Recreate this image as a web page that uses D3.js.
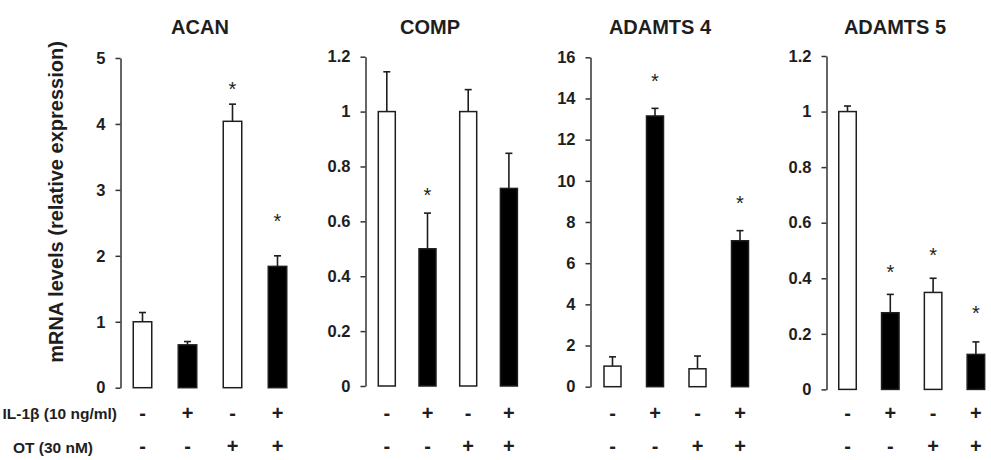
<!DOCTYPE html>
<html>
<head>
<meta charset="utf-8">
<script src="https://cdn.jsdelivr.net/npm/d3@7"></script>
<style>
  html, body { margin: 0; padding: 0; background: #fff; }
  svg { display: block; font-family: Arial, "Liberation Sans", sans-serif; }
</style>
</head>
<body>
<svg id="chart" width="991" height="460"></svg>
<script>
// groups (treatments), shared by all panels
const categories = ['ctrl', 'il1b', 'ot', 'il1b_ot'];
const il1bSigns = ['-', '+', '-', '+'];
const otSigns = ['-', '-', '+', '+'];
const barFills = ['white', 'black', 'white', 'black'];

const genes = ['ACAN', 'COMP', 'ADAMTS 4', 'ADAMTS 5'];
const yMax = [5, 1.2, 16, 1.2];
const yTicks = [
  [0, 1, 2, 3, 4, 5],
  [0, 0.2, 0.4, 0.6, 0.8, 1, 1.2],
  [0, 2, 4, 6, 8, 10, 12, 14, 16],
  [0, 0.2, 0.4, 0.6, 0.8, 1, 1.2]
];

const acanMean = [1.0, 0.65, 4.04, 1.84];
const acanErr = [0.14, 0.05, 0.26, 0.16];
const acanStar = [null, null, 4.59, 2.59];

const compMean = [1.0, 0.5, 1.0, 0.72];
const compErr = [0.145, 0.13, 0.08, 0.128];
const compStar = [null, 0.71, null, null];

const adamts4Mean = [1.0, 13.15, 0.87, 7.09];
const adamts4Err = [0.45, 0.37, 0.62, 0.49];
const adamts4Star = [null, 15.06, null, 9.12];

const adamts5Mean = [1.0, 0.276, 0.349, 0.126];
const adamts5Err = [0.02, 0.066, 0.051, 0.045];
const adamts5Star = [null, 0.437, 0.499, 0.288];

const means = [acanMean, compMean, adamts4Mean, adamts5Mean];
const errs = [acanErr, compErr, adamts4Err, adamts5Err];
const stars = [acanStar, compStar, adamts4Star, adamts5Star];

// panel placement
const layout = [
  { axisX: 120.5, first: 142.5, step: 45, barW: 20, y0: 387.7, yTop: 58, titleX: 200 },
  { axisX: 365.5, first: 386.8, step: 40.7, barW: 18.5, y0: 386, yTop: 56.7, titleX: 430 },
  { axisX: 590.5, first: 612.5, step: 42.5, barW: 18.5, y0: 386.7, yTop: 57.3, titleX: 660 },
  { axisX: 826.5, first: 847.5, step: 42.8, barW: 19, y0: 389.4, yTop: 56, titleX: 895 }
];

const ink = '#1e1e1e';
const svg = d3.select('#chart');

genes.forEach((gene, p) => {
  const L = layout[p];
  const g = svg.append('g');
  const start = L.first - L.step / 2;
  const x = d3.scaleBand()
    .domain(categories)
    .range([start, start + L.step * categories.length])
    .paddingInner(1 - L.barW / L.step)
    .paddingOuter((1 - L.barW / L.step) / 2);
  const y = d3.scaleLinear().domain([0, yMax[p]]).range([L.y0, L.yTop]);

  const axis = g.append('g')
    .attr('transform', `translate(${L.axisX},0)`)
    .call(d3.axisLeft(y).tickValues(yTicks[p]).tickFormat(d3.format('~g'))
      .tickSize(5).tickSizeOuter(0).tickPadding(10));
  axis.select('.domain').attr('stroke', '#333').attr('stroke-width', 1.5);
  axis.selectAll('.tick line').attr('stroke', '#333').attr('stroke-width', 1.5);
  axis.selectAll('.tick text')
    .attr('fill', ink).attr('font-size', 16.5).attr('font-weight', 'bold');

  const data = categories.map((c, i) => ({
    c, v: means[p][i], e: errs[p][i], s: stars[p][i], fill: barFills[i]
  }));

  // error bars (upper only)
  const eb = g.selectAll('.err').data(data).enter().append('g');
  eb.append('line')
    .attr('x1', d => x(d.c) + x.bandwidth() / 2)
    .attr('x2', d => x(d.c) + x.bandwidth() / 2)
    .attr('y1', d => y(d.v))
    .attr('y2', d => y(d.v + d.e))
    .attr('stroke', ink).attr('stroke-width', 1.6);
  eb.append('line')
    .attr('x1', d => x(d.c) + x.bandwidth() / 2 - 3.5)
    .attr('x2', d => x(d.c) + x.bandwidth() / 2 + 3.5)
    .attr('y1', d => y(d.v + d.e))
    .attr('y2', d => y(d.v + d.e))
    .attr('stroke', ink).attr('stroke-width', 1.6);

  g.selectAll('.bar').data(data).enter().append('rect')
    .attr('x', d => x(d.c) + 0.75)
    .attr('y', d => y(d.v))
    .attr('width', x.bandwidth() - 1.5)
    .attr('height', d => y(0) - y(d.v))
    .attr('fill', d => d.fill)
    .attr('stroke', ink)
    .attr('stroke-width', 1.5);

  g.selectAll('.star').data(data.filter(d => d.s != null)).enter().append('text')
    .attr('x', d => x(d.c) + x.bandwidth() / 2)
    .attr('y', d => y(d.s) + 11)
    .attr('text-anchor', 'middle')
    .attr('font-size', 20)
    .attr('fill', ink)
    .text('*');

  g.append('text')
    .attr('x', L.titleX).attr('y', 34)
    .attr('text-anchor', 'middle')
    .attr('font-size', 20).attr('font-weight', 'bold')
    .attr('fill', ink)
    .text(gene);

  [il1bSigns, otSigns].forEach((row, r) => {
    g.selectAll('.sign' + r).data(categories).enter().append('text')
      .attr('x', c => x(c) + x.bandwidth() / 2)
      .attr('y', r === 0 ? 419.5 : 453)
      .attr('text-anchor', 'middle')
      .attr('font-size', 20).attr('font-weight', 'bold')
      .attr('fill', ink)
      .text((c, i) => row[i]);
  });
});

svg.append('text')
  .attr('transform', 'translate(63,202) rotate(-90)')
  .attr('text-anchor', 'middle')
  .attr('font-size', 20).attr('font-weight', 'bold')
  .attr('fill', ink)
  .text('mRNA levels (relative expression)');

svg.append('text')
  .attr('x', 117).attr('y', 419)
  .attr('text-anchor', 'end')
  .attr('font-size', 15.5).attr('font-weight', 'bold')
  .attr('fill', ink)
  .text('IL-1β (10 ng/ml)');

svg.append('text')
  .attr('x', 53).attr('y', 452.5)
  .attr('text-anchor', 'middle')
  .attr('font-size', 15.5).attr('font-weight', 'bold')
  .attr('fill', ink)
  .text('OT (30 nM)');
</script>
</body>
</html>
